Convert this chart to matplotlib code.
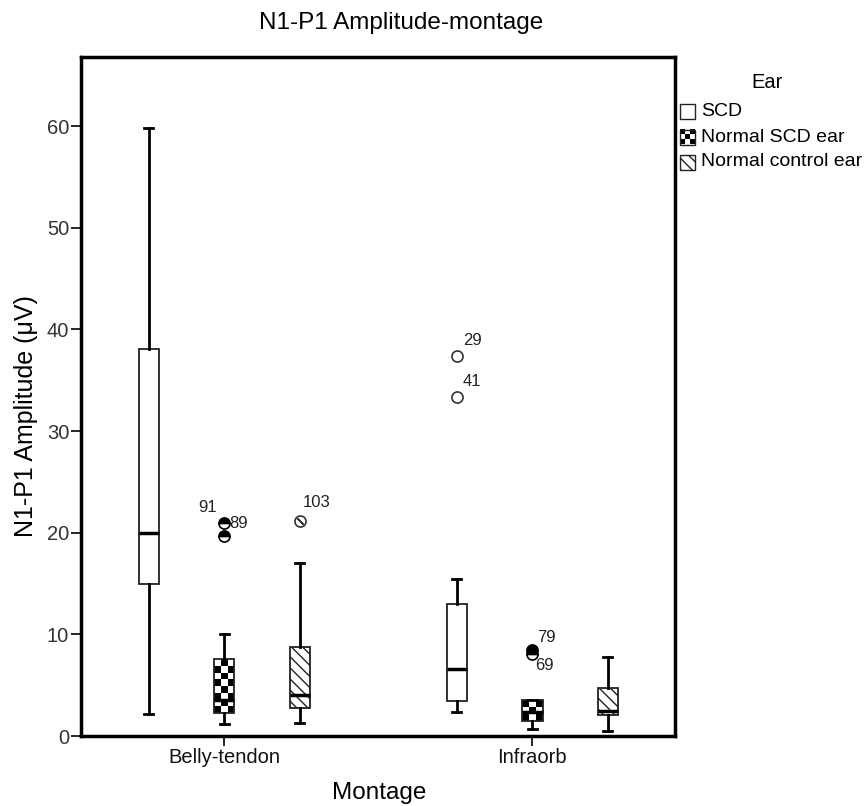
import matplotlib
matplotlib.use('Agg')
import matplotlib.pyplot as plt
import numpy as np
from matplotlib.patches import Rectangle

plt.rcParams['font.family'] = ['Liberation Sans', 'DejaVu Sans']
plt.rcParams['hatch.linewidth'] = 1.0

montages = ['Belly-tendon', 'Infraorb']
ears = ['SCD', 'Normal SCD ear', 'Normal control ear']

# five-number summaries, [montage][ear]
q1 = [[15.0, 2.3, 2.8], [3.4, 1.5, 2.1]]
med = [[20.0, 3.5, 4.0], [6.6, 2.4, 2.5]]
q3 = [[38.1, 7.6, 8.8], [12.95, 3.55, 4.7]]
whislo = [[2.2, 1.2, 1.25], [2.35, 0.7, 0.5]]
whishi = [[59.8, 10.0, 17.0], [15.4, 3.55, 7.75]]
fliers = [[[], [21.0, 19.7], [21.2]], [[37.4, 33.4], [8.45, 8.05], []]]
flier_ids = [[[], ['91', '89'], ['103']], [['29', '41'], ['79', '69'], []]]
# label offsets (points) for each outlier id
id_offsets = {'91': (-12, 11), '89': (10, 9), '103': (12, 13), '29': (11, 11),
              '41': (11, 11), '79': (10, 9), '69': (9, -8)}

offsets = [-0.245, 0.0, 0.245]
bw = 0.066
W, H = 865, 806


def checker(ax_or_fig, x0, x1, y0, y1, ny, clip, **kw):
    ii, jj = np.indices((ny, 3))
    board = ((ii + jj) % 2).astype(float)
    im = ax_or_fig.imshow(board, cmap='gray', extent=(x0, x1, y0, y1),
                          interpolation='nearest', aspect='auto', origin='lower', **kw)
    im.set_clip_path(clip)
    return im


fig = plt.figure(figsize=[W/100, H/100], dpi=100)
ax = fig.add_axes([81/W, 1-736/H, (675-81)/W, (736-57)/H])

for m in range(2):
    for e in range(3):
        st = dict(q1=q1[m][e], med=med[m][e], q3=q3[m][e], whislo=whislo[m][e],
                  whishi=whishi[m][e], fliers=[])
        pos = m + offsets[e]
        res = ax.bxp([st], positions=[pos], widths=bw, patch_artist=True,
                     capwidths=bw*0.45, showfliers=False,
                     boxprops=dict(facecolor='white', edgecolor='#222222', lw=1.3),
                     medianprops=dict(color='black', lw=2.5),
                     whiskerprops=dict(color='black', lw=2),
                     capprops=dict(color='black', lw=2))
        box = res['boxes'][0]
        if e == 1:
            box.set_facecolor('none')
            v = box.get_path().vertices
            ny = max(2, int(round((v[:, 1].max() - v[:, 1].min()) / 0.64)))
            checker(ax, v[:, 0].min(), v[:, 0].max(), v[:, 1].min(), v[:, 1].max(),
                    ny, box, zorder=1)
        elif e == 2:
            box.set_hatch('\\\\\\')
        for val, lab in zip(fliers[m][e], flier_ids[m][e]):
            if e == 1:
                ax.plot(pos, val, 'o', ms=8, mec='black', mfc='black',
                        fillstyle='top', markerfacecoloralt='white', mew=1.2, zorder=3)
            else:
                ax.plot(pos, val, 'o', ms=8, mec='#333333', mfc='white', mew=1.2, zorder=3)
                if e == 2:
                    ax.plot(pos, val, marker=(2, 2, 45), ms=6, mec='#333333', mew=1, zorder=4)
            ax.annotate(lab, (pos, val), xytext=id_offsets[lab], textcoords='offset points',
                        ha='center', va='center', fontsize=12, color='#222222')

ax.set_xlim(-0.465, 1.463)
ax.set_ylim(0, 66.8)
ax.set_yticks([0, 10, 20, 30, 40, 50, 60])
ax.set_xticks([0, 1])
ax.set_xticklabels(montages)
for s in ax.spines.values():
    s.set_linewidth(2.5)
ax.tick_params(axis='both', direction='out', length=7.5, width=1.2,
               labelsize=14.5, labelcolor='#333333', pad=1)
ax.tick_params(axis='x', labelcolor='#111111')
ax.set_ylabel('N1-P1 Amplitude (\u03bcV)', fontsize=18)
ax.yaxis.set_label_coords((38-81)/594, (736-416)/679)
ax.set_xlabel('Montage', fontsize=17.5)
ax.xaxis.set_label_coords((379-81)/594, (736-782)/679)
fig.text(401/W, 1-23/H, 'N1-P1 Amplitude-montage', fontsize=17.5,
         ha='center', va='center')

# legend, drawn by hand so the rows sit as tight as in the original
fig.text(767/W, 1-82/H, 'Ear', fontsize=14.5, ha='center', va='center')
sq = 15
rows = [111, 137, 162]
for k, (lab, yc) in enumerate(zip(ears, rows)):
    x0, y0 = 680/W, 1-(yc+sq/2)/H
    rect = Rectangle((x0, y0), sq/W, sq/H, transform=fig.transFigure,
                     facecolor='white' if k != 1 else 'none', edgecolor='#222222',
                     lw=1, hatch='\\\\\\' if k == 2 else None, zorder=3)
    fig.add_artist(rect)
    if k == 1:
        ii, jj = np.indices((3, 3))
        fig.figimage(np.kron(((ii + jj) % 2), np.ones((5, 5))), xo=680, yo=H-(yc+sq/2),
                     cmap='gray', origin='lower', zorder=2)
    fig.text(701/W, 1-yc/H, lab, fontsize=14, ha='left', va='center')

plt.savefig('out.png')
